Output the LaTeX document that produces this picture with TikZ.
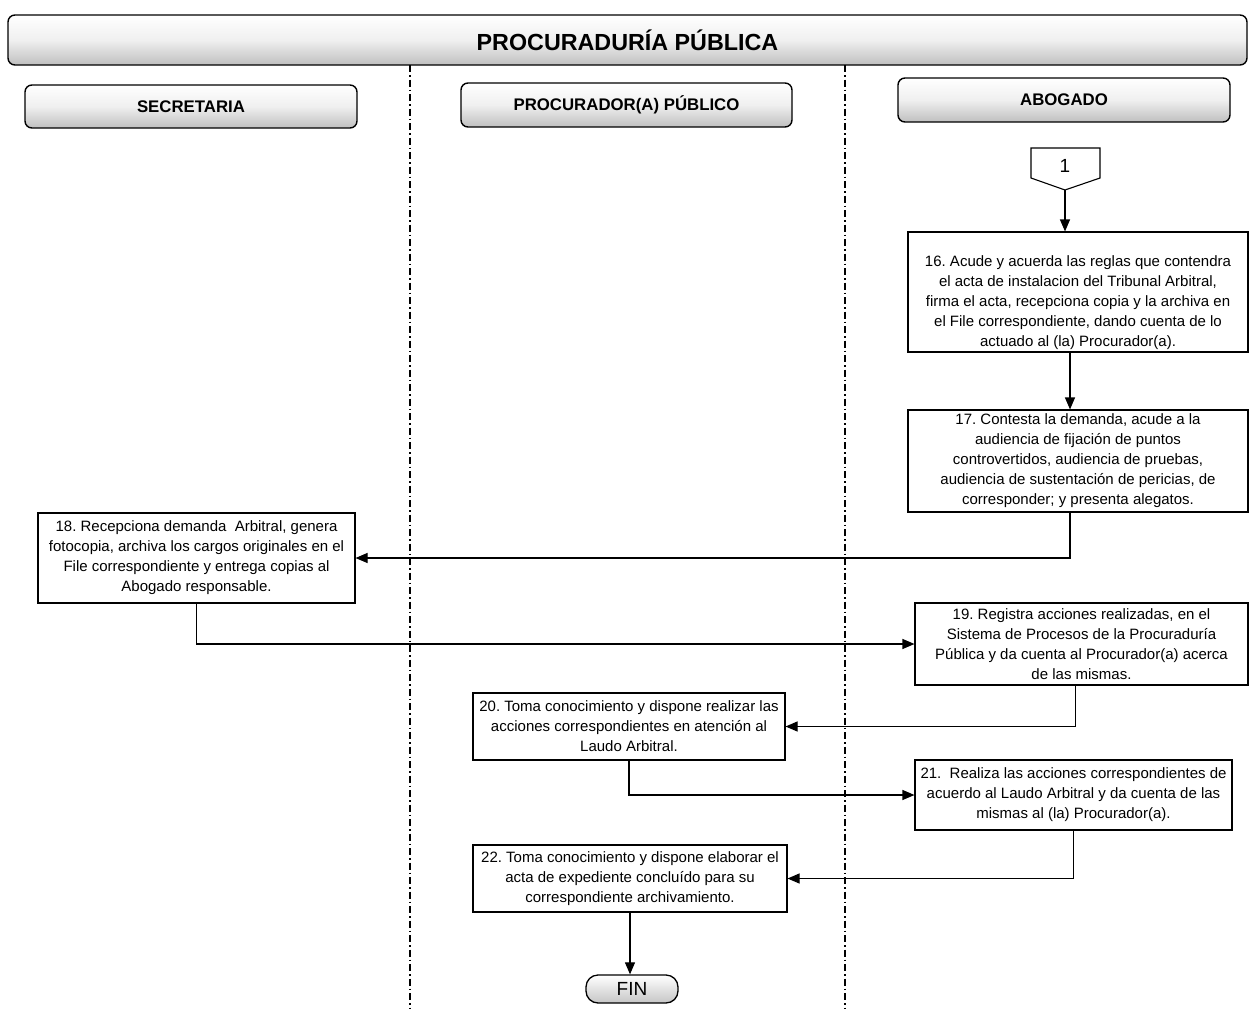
\documentclass[tikz,border=0pt]{standalone}
\usepackage{fontspec}
\setmainfont{Liberation Sans}
\usetikzlibrary{arrows.meta,calc}
\frenchspacing
\begin{document}
\begin{tikzpicture}[x=1pt,y=-1pt,
  band/.style={draw, line width=1.4pt, rounded corners=7pt, top color=white, bottom color=gray!50, middle color=gray!12},
  lanehead/.style={band, font=\bfseries\fontsize{16.8}{19}\selectfont, inner sep=0pt},
  stepfont/.style={align=center, inner sep=0pt, font=\fontsize{15}{20}\selectfont},
  stepbox/.style={draw, line width=1.1pt, stepfont},
  flow/.style={line width=1.1pt, -{Triangle[length=12pt,width=10pt]}},
  divider/.style={line width=1.3pt, dash pattern=on 7pt off 3pt on 1.5pt off 3pt}
]
\useasboundingbox (0,0) rectangle (1251,1009);
% title band
\node[band, minimum width=1239pt, minimum height=50pt, inner sep=0pt,
      font=\bfseries\fontsize{23.3}{26}\selectfont] (title) at (627.5,40) {PROCURADURÍA PÚBLICA};
% lane dividers
\draw[divider] (410,65) -- (410,1009);
\draw[divider] (845,65) -- (845,1009);
% lane headers
\node[lanehead, minimum width=332pt, minimum height=43pt] (hsec) at (191,106.5) {SECRETARIA};
\node[lanehead, minimum width=331pt, minimum height=44pt] (hpro) at (626.5,105) {PROCURADOR(A) PÚBLICO};
\node[lanehead, minimum width=332pt, minimum height=44pt] (habo) at (1064,100) {ABOGADO};
% off-page connector
\node[font=\fontsize{19}{21}\selectfont, inner sep=0pt] (c1) at (1065,166) {1};
\draw[line width=1.1pt] (1031,148) -- (1100,148) -- (1100,178) -- (1065,190) -- (1031,178) -- cycle;
\coordinate (c1tip) at (1065,190);
% steps (box 16 carries its text slightly below centre)
\node[stepbox, minimum width=340pt, minimum height=120pt] (b16) at (1078,292) {};
\node[stepfont] (t16) at (1078,303)
  {16. Acude y acuerda las reglas que contendra\\ el acta de instalacion del Tribunal Arbitral,\\ firma el acta, recepciona copia y la archiva en\\ el File correspondiente, dando cuenta de lo\\ actuado al (la) Procurador(a).};
\node[stepbox, minimum width=340pt, minimum height=102pt] (b17) at (1078,461)
  {17. Contesta la demanda, acude a la\\ audiencia de fijación de puntos\\ controvertidos, audiencia de pruebas,\\ audiencia de sustentación de pericias, de\\ corresponder; y presenta alegatos.};
\node[stepbox, minimum width=317pt, minimum height=90pt] (b18) at (196.5,558)
  {18. Recepciona demanda\ \ Arbitral, genera\\ fotocopia, archiva los cargos originales en el\\ File correspondiente y entrega copias al\\ Abogado responsable.};
\node[stepbox, minimum width=333pt, minimum height=82pt] (b19) at (1081.5,644)
  {19. Registra acciones realizadas, en el\\ Sistema de Procesos de la Procuraduría\\ Pública y da cuenta al Procurador(a) acerca\\ de las mismas.};
\node[stepbox, minimum width=312pt, minimum height=67pt] (b20) at (629,726.5)
  {20. Toma conocimiento y dispone realizar las\\ acciones correspondientes en atención al\\ Laudo Arbitral.};
\node[stepbox, minimum width=317pt, minimum height=70pt] (b21) at (1073.5,795)
  {21.\ \ Realiza las acciones correspondientes de\\ acuerdo al Laudo Arbitral y da cuenta de las\\ mismas al (la) Procurador(a).};
\node[stepbox, minimum width=314pt, minimum height=67pt] (b22) at (630,878.5)
  {22. Toma conocimiento y dispone elaborar el\\ acta de expediente concluído para su\\ correspondiente archivamiento.};
% terminator
\node[draw, line width=1.3pt, rounded corners=12pt, minimum width=92pt, minimum height=28pt,
      top color=white, bottom color=gray!45, inner sep=0pt,
      font=\fontsize{19}{21}\selectfont] (fin) at (632,989) {FIN};
% connectors
\draw[flow] (c1tip) -- (c1tip |- b16.north);
\draw[flow] ([xshift=-8pt]b16.south) -- ([xshift=-8pt]b17.north);
\draw[flow] ([xshift=-8pt]b17.south) |- (b18.east);
\draw[flow] (b18.south) |- (b19.west);
\draw[flow] ([xshift=-6pt]b19.south) |- (b20.east);
\draw[flow] (b20.south) |- (b21.west);
\draw[flow] (b21.south) |- (b22.east);
\draw[flow] (b22.south) -- (b22.south |- fin.north);
\end{tikzpicture}
\end{document}
